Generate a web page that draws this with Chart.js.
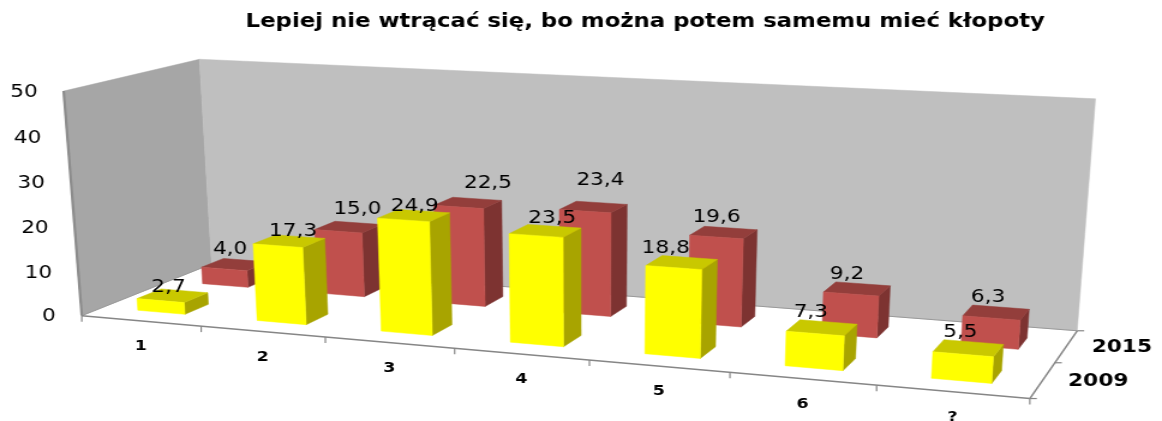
<!DOCTYPE html>
<html><head><meta charset="utf-8">
<style>html,body{margin:0;padding:0;background:#fff;overflow:hidden}
#wrap{width:1162px;height:421px;overflow:hidden}
canvas{display:block;transform-origin:0 0;filter:blur(.35px)}</style>
<script src="https://cdn.jsdelivr.net/npm/chart.js@4/dist/chart.umd.min.js"></script>
</head><body><div id="wrap"><canvas id="c"></canvas></div>
<script>
const titleText = 'Lepiej nie wtrącać się, bo można potem samemu mieć kłopoty';
const categories = ['1','2','3','4','5','6','?'];
const values2009 = [2.7,17.3,24.9,23.5,18.8,7.3,5.5];
const values2015 = [4.0,15.0,22.5,23.4,19.6,9.2,6.3];
const seriesNames = ['2009','2015'];
const yMax = 50, yStep = 10;

// manual label placement, relative to each bar's top (page px)
const labelNudge2009 = [[-4,-8],[4,-10],[1,-9],[7,-13],[-16,-14],[-11,-15],[-8,-16]];
const labelNudge2015 = [[-5,-15],[9,-18],[20,-20],[7,-27],[-7,-15],[-10,-15],[-8,-15]];

const SX = 1.2;
const CW = Math.round(1162/SX);
const canvas = document.getElementById('c');
canvas.width = CW; canvas.height = 421;
canvas.style.transform = 'scaleX(' + (1162/CW) + ')';

// camera calibration: box coordinates (u along categories, w depth, h height) -> page pixels
const calib = [
 [0,0,0,82,316],[1,0,0,1030,398],[1,1,0,1077,331],[0,1,0,211,263],
 [0,0,1,63,91],[0,1,1,200,60],[1,1,1,1095,98],
 [1/7,0,0,201,326.3],[2/7,0,0,325,337],[3/7,0,0,455,348.3],[4/7,0,0,590,360],[5/7,0,0,730,372],[6/7,0,0,875,384.6],
 [1,.5,0,1054,364.5]
];
function solveCamera(pts){
  const n=11, A=Array.from({length:n},()=>new Array(n+1).fill(0));
  const add=(r,b)=>{for(let i=0;i<n;i++){for(let j=0;j<n;j++)A[i][j]+=r[i]*r[j];A[i][n]+=r[i]*b;}};
  for(const [u,w,h,x,y] of pts){
    add([u,w,h,1,0,0,0,0,-x*u,-x*w,-x*h],x);
    add([0,0,0,0,u,w,h,1,-y*u,-y*w,-y*h],y);
  }
  for(let i=0;i<n;i++){
    let m=i;for(let r=i+1;r<n;r++)if(Math.abs(A[r][i])>Math.abs(A[m][i]))m=r;
    [A[i],A[m]]=[A[m],A[i]];
    for(let r=0;r<n;r++){if(r===i)continue;const f=A[r][i]/A[i][i];for(let c=i;c<=n;c++)A[r][c]-=f*A[i][c];}
  }
  return A.map((r,i)=>r[n]/r[i]);
}
const P = solveCamera(calib);
function proj(u,w,h){
  const d=P[8]*u+P[9]*w+P[10]*h+1;
  return [(P[0]*u+P[1]*w+P[2]*h+P[3])/d/SX,(P[4]*u+P[5]*w+P[6]*h+P[7])/d];
}
function poly(ctx,pts,fill){
  ctx.beginPath();pts.forEach((p,i)=>i?ctx.lineTo(p[0],p[1]):ctx.moveTo(p[0],p[1]));ctx.closePath();
  ctx.fillStyle=fill;ctx.fill();ctx.strokeStyle=fill;ctx.lineWidth=.5;ctx.stroke();
}
function line(ctx,a,b,col,lw){ctx.beginPath();ctx.moveTo(a[0],a[1]);ctx.lineTo(b[0],b[1]);ctx.strokeStyle=col;ctx.lineWidth=lw;ctx.stroke();}

const rowDepth = [[.15,.33],[.65,.83]];
const faceColors = [
  {top:'#C9C800',side:'#A8A400'},
  {top:'#933E3B',side:'#7D3331'}
];
const labelNudges = [labelNudge2009,labelNudge2015];
const box3d = {
  id:'box3d',
  beforeDatasetsDraw(chart){
    const ctx=chart.ctx, xs=chart.scales.x, ys=chart.scales.y;
    ctx.save();
    // walls
    poly(ctx,[proj(0,0,0),proj(0,1,0),proj(0,1,1),proj(0,0,1)],'#A6A6A6');
    poly(ctx,[proj(0,1,0),proj(1,1,0),proj(1,1,1),proj(0,1,1)],'#BFBFBF');
    line(ctx,proj(0,0,0),proj(0,0,1),'#8C8C8C',2.2);
    line(ctx,proj(0,0,0),proj(0,1,0),'#999999',1);
    line(ctx,proj(0,1,0),proj(1,1,0),'#999999',1);
    // axes
    line(ctx,proj(0,0,0),proj(1,0,0),'#868686',1.5);
    line(ctx,proj(1,0,0),proj(1,1,0),'#868686',1.5);
    for(let k=0;k<=categories.length;k++){
      const p=proj(k/categories.length,0,0);
      line(ctx,p,[p[0],p[1]+6],'#868686',1.2);
    }
    for(const w of [0,.5,1]){
      const p=proj(1,w,0);
      line(ctx,p,[p[0]+7/SX,p[1]],'#868686',1.2);
    }
    // bars, back row first
    for(let d=chart.data.datasets.length-1;d>=0;d--){
      const meta=chart.getDatasetMeta(d), col=chart.data.datasets[d].backgroundColor, fc=faceColors[d];
      const [w0,w1]=rowDepth[d];
      meta.data.forEach(el=>{
        const u0=(el.x-el.width/2-xs.left)/xs.width, u1=(el.x+el.width/2-xs.left)/xs.width;
        const h=(ys.bottom-el.y)/ys.height;
        poly(ctx,[proj(u1,w0,0),proj(u1,w1,0),proj(u1,w1,h),proj(u1,w0,h)],fc.side);
        poly(ctx,[proj(u0,w0,h),proj(u1,w0,h),proj(u1,w1,h),proj(u0,w1,h)],fc.top);
        poly(ctx,[proj(u0,w0,0),proj(u1,w0,0),proj(u1,w0,h),proj(u0,w0,h)],col);
      });
    }
    // value labels
    ctx.textAlign='center';ctx.textBaseline='middle';ctx.fillStyle='#000';
    ctx.font='18px "DejaVu Sans"';
    for(let d=chart.data.datasets.length-1;d>=0;d--){
      const meta=chart.getDatasetMeta(d), vals=chart.data.datasets[d].data, [w0,w1]=rowDepth[d];
      meta.data.forEach((el,i)=>{
        const u=(el.x-xs.left)/xs.width, h=(ys.bottom-el.y)/ys.height;
        const p=proj(u,(w0+w1)/2,h), n=labelNudges[d][i];
        ctx.fillText(vals[i].toFixed(1).replace('.',','),p[0]+n[0]/SX,p[1]+n[1]);
      });
    }
    // value axis labels
    ctx.textAlign='right';
    ys.ticks.forEach(t=>{
      const p=proj(0,0,(t.value-ys.min)/(ys.max-ys.min));
      ctx.fillText(String(t.value),p[0]-26/SX,p[1]+1);
    });
    // category labels
    ctx.textAlign='center';ctx.font='bold 14.5px "DejaVu Sans"';
    categories.forEach((c,i)=>{
      const el=chart.getDatasetMeta(0).data[i];
      const p=proj((el.x-xs.left)/xs.width,0,0);
      ctx.fillText(c,p[0],p[1]+25.5);
    });
    // depth labels
    ctx.textAlign='left';ctx.font='bold 18px "DejaVu Sans"';
    seriesNames.forEach((s,d)=>{
      const p=proj(1,(rowDepth[d][0]+rowDepth[d][1])/2,0);
      ctx.fillText(s,p[0]+26/SX,p[1]);
    });
    ctx.restore();
    return false;
  }
};

new Chart(canvas,{
  type:'bar',
  data:{labels:categories,datasets:[
    {label:seriesNames[0],data:values2009,backgroundColor:'#FFFF00',grouped:false,barPercentage:.4,categoryPercentage:1},
    {label:seriesNames[1],data:values2015,backgroundColor:'#C0504D',grouped:false,barPercentage:.4,categoryPercentage:1}
  ]},
  options:{
    responsive:false,animation:false,devicePixelRatio:1,
    layout:{padding:{left:107,top:11,right:0,bottom:10}},
    plugins:{legend:{display:false},tooltip:{enabled:false},
      title:{display:true,text:titleText,color:'#000',font:{family:'"DejaVu Sans"',size:19,weight:'bold'},padding:0}},
    scales:{
      x:{display:false,offset:true},
      y:{display:false,min:0,max:yMax,ticks:{stepSize:yStep}}
    }
  },
  plugins:[box3d]
});
</script></body></html>
